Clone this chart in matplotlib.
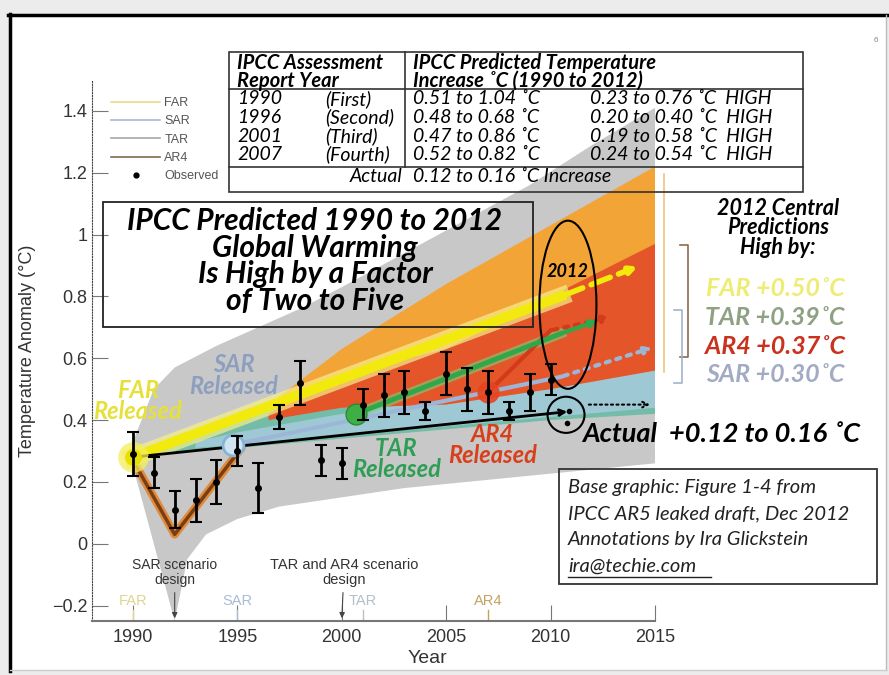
import matplotlib
matplotlib.use('Agg')
import matplotlib.pyplot as plt
from matplotlib.patches import Ellipse, Rectangle
from matplotlib.lines import Line2D
from matplotlib.ticker import FuncFormatter

plt.rcParams['font.family'] = ['Liberation Sans', 'DejaVu Sans']
CAL = ['Lato', 'DejaVu Sans']

W, H = 889, 675


def fx(x):
    return x / W


def fy(y):
    return 1 - y / H


# observed global temperature anomaly (with error bars)
obs_years = [1990, 1991, 1992, 1993, 1994, 1995, 1996, 1997, 1998, 1999, 2000,
             2001, 2002, 2003, 2004, 2005, 2006, 2007, 2008, 2009, 2010]
obs_mean = [0.29, 0.23, 0.11, 0.14, 0.20, 0.30, 0.18, 0.41, 0.52, 0.27, 0.26,
            0.45, 0.48, 0.49, 0.43, 0.55, 0.50, 0.49, 0.43, 0.49, 0.53]
obs_err = [0.07, 0.05, 0.06, 0.07, 0.07, 0.05, 0.08, 0.04, 0.07, 0.05, 0.05,
           0.05, 0.07, 0.07, 0.03, 0.07, 0.07, 0.07, 0.03, 0.06, 0.05]
actual_x = [2010.9, 2010.8]
actual_y = [0.43, 0.39]

# grey envelope
gray_hi_x = [1990, 1991, 1992, 1994, 1996, 1998, 2000, 2003, 2006, 2009, 2012, 2015]
gray_hi = [0.33, 0.50, 0.57, 0.64, 0.70, 0.76, 0.83, 0.94, 1.05, 1.16, 1.29, 1.41]
gray_lo_x = [1990, 1991, 1992, 1992.6, 1993.5, 1995, 1997, 2000, 2003, 2006, 2009, 2012, 2015]
gray_lo = [0.25, 0.0, -0.25, -0.05, 0.03, 0.08, 0.12, 0.15, 0.18, 0.20, 0.22, 0.24, 0.26]

# projection ranges
far_x = [1996.5, 2000, 2005, 2010, 2015]
far_hi = [0.45, 0.63, 0.84, 1.03, 1.22]
far_lo = [0.43, 0.47, 0.52, 0.56, 0.60]
tar_x = [1991, 1995, 2000, 2005, 2010, 2015]
tar_hi = [0.30, 0.42, 0.50, 0.54, 0.56, 0.58]
tar_lo = [0.29, 0.31, 0.34, 0.37, 0.40, 0.42]
sar_x = [1993, 1995, 2000, 2005, 2010, 2015]
sar_hi = [0.33, 0.36, 0.42, 0.47, 0.52, 0.56]
sar_lo = [0.31, 0.32, 0.35, 0.38, 0.41, 0.44]
ar4_x = [1996.5, 2000, 2005, 2010, 2015]
ar4_hi = [0.42, 0.55, 0.63, 0.80, 0.97]
ar4_lo = [0.40, 0.44, 0.45, 0.50, 0.56]

# central lines
far_line_x = [1990, 2010.5, 2014.3]
far_line_y = [0.28, 0.80, 0.90]
sar_line_x = [1994.8, 2010.5, 2015]
sar_line_y = [0.32, 0.54, 0.637]
tar_line_x = [2000.7, 2010.5, 2012.4]
tar_line_y = [0.42, 0.68, 0.725]
ar4_line_x = [2007.0, 2010.0, 2013.0]
ar4_line_y = [0.49, 0.69, 0.735]
act_line_x = [1990, 2010.8]
act_line_y = [0.28, 0.427]
hind_x = [1990, 1992, 1995.2]
hind_y = [0.27, 0.03, 0.31]

report_years_axis = [1990, 1995, 2001, 2007]
report_names_axis = ['FAR', 'SAR', 'TAR', 'AR4']
report_colors = ['#e0d48e', '#a9bdd6', '#b5bfc8', '#c4a25e']

# table contents
tbl_years = ['1990', '1996', '2001', '2007']
tbl_names = ['(First)', '(Second)', '(Third)', '(Fourth)']
tbl_pred = ['0.51 to 1.04 ˚C', '0.48 to 0.68 ˚C', '0.47 to 0.86 ˚C', '0.52 to 0.82 ˚C']
tbl_high = ['0.23 to 0.76 ˚C  HIGH', '0.20 to 0.40 ˚C  HIGH',
            '0.19 to 0.58 ˚C  HIGH', '0.24 to 0.54 ˚C  HIGH']

high_labels = ['FAR +0.50˚C', 'TAR +0.39˚C', 'AR4 +0.37˚C', 'SAR +0.30˚C']
high_colors = ['#eeec72', '#8ea283', '#c9321d', '#a3abc3']

fig = plt.figure(figsize=(8.89, 6.75), dpi=100)
fig.patch.set_facecolor('#ececec')
fig.add_artist(Rectangle((fx(10), fy(670)), fx(886) - fx(10), fy(15) - fy(670),
                         transform=fig.transFigure, facecolor='white',
                         edgecolor='none', zorder=-5))
fig.add_artist(Line2D([fx(8), fx(887)], [fy(15), fy(15)], color='black', lw=2.5))
fig.add_artist(Line2D([fx(10), fx(10)], [fy(14), fy(671)], color='black', lw=2.5))
fig.add_artist(Line2D([fx(886), fx(886)], [fy(15), fy(670)], color='#bbbbbb', lw=1))
fig.add_artist(Line2D([fx(10), fx(886)], [fy(670), fy(670)], color='#cccccc', lw=1))

ax = fig.add_axes([fx(92), fy(621), fx(655) - fx(92), fy(80) - fy(621)])
ax.patch.set_alpha(0)
ax.set_xlim(1988.04, 2015)
ax.set_ylim(-0.25, 1.5)

# bands
ax.fill(gray_hi_x + gray_lo_x[::-1], gray_hi + gray_lo[::-1], color='#c8c8c8', lw=0, zorder=1)
ax.fill(far_x + far_x[::-1], far_hi + far_lo[::-1], color='#f3a436', lw=0, zorder=2)
ax.fill(tar_x + tar_x[::-1], tar_hi + tar_lo[::-1], color='#74bca8', lw=0, zorder=2.2)
ax.fill(sar_x + sar_x[::-1], sar_hi + sar_lo[::-1], color='#a9cde0', lw=0, zorder=2.3, alpha=0.8)
ax.fill(ar4_x + ar4_x[::-1], ar4_hi + ar4_lo[::-1], color='#e5552a', lw=0, zorder=2.4)

# hindcast V
ax.plot(hind_x, hind_y, color='#e08a3c', lw=6, solid_capstyle='round', zorder=3)
ax.plot(hind_x, hind_y, color='#7a3e14', lw=2.5, zorder=3.1)

# central projection lines
ax.plot(far_line_x[:2], far_line_y[:2], color='#f6f08a', lw=13, alpha=0.7, zorder=4)
ax.plot(far_line_x[:2], far_line_y[:2], color='#f2ea0c', lw=7, zorder=4.1)
ax.annotate('', xy=(far_line_x[2], far_line_y[2]), xytext=(far_line_x[1], far_line_y[1]),
            arrowprops=dict(arrowstyle='->', color='#f2ea0c', lw=4, linestyle='--'), zorder=4.1)
ax.plot(sar_line_x[:2], sar_line_y[:2], color='#9db6d8', lw=3, zorder=4)
ax.annotate('', xy=(sar_line_x[2], sar_line_y[2]), xytext=(sar_line_x[1], sar_line_y[1]),
            arrowprops=dict(arrowstyle='->', color='#9db6d8', lw=3, linestyle=':'), zorder=4)
ax.plot(tar_line_x[:2], tar_line_y[:2], color='#7ccf7a', lw=7, alpha=0.6, zorder=4)
ax.plot(tar_line_x[:2], tar_line_y[:2], color='#2ea84a', lw=3.5, zorder=4.1)
ax.annotate('', xy=(tar_line_x[2], tar_line_y[2]), xytext=(tar_line_x[1], tar_line_y[1]),
            arrowprops=dict(arrowstyle='->', color='#2ea84a', lw=3), zorder=4.1)
ax.plot(ar4_line_x[:2], ar4_line_y[:2], color='#d23a1c', lw=3, zorder=4)
ax.annotate('', xy=(ar4_line_x[2], ar4_line_y[2]), xytext=(ar4_line_x[1], ar4_line_y[1]),
            arrowprops=dict(arrowstyle='->', color='#d23a1c', lw=3, linestyle=':'), zorder=4)
ax.annotate('', xy=(act_line_x[1], act_line_y[1]), xytext=(act_line_x[0], act_line_y[0]),
            arrowprops=dict(arrowstyle='->', color='black', lw=2, shrinkA=0, shrinkB=0), zorder=5)

# report release markers
ax.plot(far_line_x[0], far_line_y[0], 'o', ms=22, color='#f4ee5a', alpha=0.75, mec='none', zorder=6)
ax.plot(far_line_x[0], far_line_y[0], 'o', ms=12, color='#e8e000', mec='none', zorder=6)
ax.plot(sar_line_x[0], sar_line_y[0], 'o', ms=15, mfc='#cfe3f0', mec='#86b4d6', mew=2, zorder=6)
ax.plot(tar_line_x[0], tar_line_y[0], 'o', ms=15, color='#3daf45', mec='#2a8a36', zorder=6)
ax.plot(ar4_line_x[0], ar4_line_y[0], 'o', ms=16, color='#e8431f', alpha=0.9, mec='none', zorder=6)

# observations
ax.errorbar(obs_years, obs_mean, yerr=obs_err, fmt='o', color='black', ms=4,
            elinewidth=2, capsize=4, capthick=1.5, zorder=7)
ax.plot(actual_x, actual_y, 'o', color='black', ms=3, zorder=7)

# 2012 ellipse & actual circle
ax.add_patch(Ellipse((2010.83, 0.773), 2.73, 0.544, fill=False, ec='black', lw=1.5, zorder=8))
ax.text(2010.83, 0.88, '2012', ha='center', va='center', fontsize=13,
        fontweight='bold', style='italic', family=CAL, zorder=9)
ax.add_patch(Ellipse((2010.74, 0.417), 1.77, 0.117, fill=False, ec='black', lw=1.5, zorder=8))
ax.annotate('', xy=(2014.9, 0.45), xytext=(2011.7, 0.45),
            arrowprops=dict(arrowstyle='->', color='black', lw=1.5, linestyle=':'), zorder=8)

# release labels
rel = dict(ha='center', va='center', fontsize=17, fontweight='bold', style='italic',
           family=CAL, linespacing=0.9, zorder=9)
ax.text(1990.24, 0.463, 'FAR\nReleased', color='#e6e03a', **rel)
ax.text(1994.84, 0.544, 'SAR\nReleased', color='#8d9fbf', **rel)
ax.text(2002.6, 0.275, 'TAR\nReleased', color='#2f9e55', **rel)
ax.text(2007.24, 0.32, 'AR4\nReleased', color='#d8401c', **rel)

# scenario design arrows
ax.annotate('SAR scenario\ndesign', xy=(1992, -0.25), xytext=(1992, -0.094),
            ha='center', va='center', fontsize=10, color='#333333', linespacing=1.05,
            arrowprops=dict(arrowstyle='-|>', color='#444444', lw=0.8, mutation_scale=8))
ax.annotate('TAR and AR4 scenario\ndesign', xy=(2000, -0.25), xytext=(2000.1, -0.094),
            ha='center', va='center', fontsize=10.5, color='#333333', linespacing=1.05,
            arrowprops=dict(arrowstyle='-|>', color='#444444', lw=0.8, mutation_scale=8))
for yr, nm, c in zip(report_years_axis, report_names_axis, report_colors):
    ax.text(yr, -0.185, nm, ha='center', va='center', fontsize=10.5, color=c)
    ax.plot([yr, yr], [-0.215, -0.25], color=c, lw=1)

# right side brackets
ax.plot([2015.43, 2015.43], [1.197, 0.555], color='#f0c27a', lw=1.2, clip_on=False)
ax.plot([2016.2, 2016.58, 2016.58, 2016.2], [0.965, 0.965, 0.603, 0.603], color='#8a6a50', lw=1.2, clip_on=False)
ax.plot([2015.9, 2016.29, 2016.29, 2015.9], [0.755, 0.755, 0.52, 0.52], color='#a3b3c9', lw=1.2, clip_on=False)

# axes styling
for s in ['top', 'right']:
    ax.spines[s].set_visible(False)
ax.spines['left'].set_linestyle((0, (1, 1.5)))
ax.spines['left'].set_color('#444444')
ax.spines['bottom'].set_color('#777777')
ax.spines['bottom'].set_linewidth(1.5)
ax.set_xticks([1990, 1995, 2000, 2005, 2010, 2015])
ax.set_yticks([-0.2, 0, 0.2, 0.4, 0.6, 0.8, 1, 1.2, 1.4])
ax.yaxis.set_major_formatter(FuncFormatter(lambda v, p: ('%g' % round(v, 2)).replace('-', '\u2212')))
ax.tick_params(direction='in', length=11.5, width=0.8, color='#777777',
               labelsize=13, labelcolor='#333333')
ax.tick_params(axis='x', pad=6)
ax.set_xlabel('Year', fontsize=14, color='#333333', labelpad=0)
ax.set_ylabel('Temperature Anomaly (°C)', fontsize=13, color='#333333')
ax.yaxis.set_label_coords(-0.1, 0.5)
ax.xaxis.set_label_coords(0.595, -0.053)

# legend
handles = [Line2D([], [], color='#e8dc8c', lw=1.2),
           Line2D([], [], color='#a8b8d2', lw=1.2),
           Line2D([], [], color='#a2aaa2', lw=1.2),
           Line2D([], [], color='#86684c', lw=1.2),
           Line2D([], [], ls='none', marker='o', color='black', ms=3.5)]
ax.legend(handles, ['FAR', 'SAR', 'TAR', 'AR4', 'Observed'], loc='upper left',
          bbox_to_anchor=(fx(105), fy(91)), bbox_transform=fig.transFigure,
          frameon=False, fontsize=9, handlelength=3.9, labelspacing=0.5,
          handletextpad=0.35, labelcolor='#555555', borderpad=0)

# table
tline = dict(color='#333333', lw=1.2)
fig.add_artist(Rectangle((fx(229), fy(192)), fx(803) - fx(229), fy(52) - fy(192),
                         transform=fig.transFigure, fill=False, ec='#333333', lw=1.2))
fig.add_artist(Line2D([fx(405), fx(405)], [fy(52), fy(167)], **tline))
fig.add_artist(Line2D([fx(229), fx(803)], [fy(89), fy(89)], **tline))
fig.add_artist(Line2D([fx(229), fx(803)], [fy(167), fy(167)], **tline))
hd = dict(fontsize=14.5, fontweight='bold', style='italic', family=CAL, va='center', linespacing=0.88)
fig.text(fx(237), fy(72), 'IPCC Assessment\nReport Year', ha='left', **hd)
fig.text(fx(413), fy(72), 'IPCC Predicted Temperature\nIncrease ˚C (1990 to 2012)', ha='left', **hd)
rw = dict(fontsize=14, style='italic', family=CAL, va='center')
for i in range(4):
    yy = fy(99 + 18.5 * i)
    fig.text(fx(237), yy, tbl_years[i], ha='left', **rw)
    fig.text(fx(325), yy, tbl_names[i], ha='left', **rw)
    fig.text(fx(413), yy, tbl_pred[i], ha='left', **rw)
    fig.text(fx(590), yy, tbl_high[i], ha='left', **rw)
fig.text(fx(402), fy(177), 'Actual', ha='right', **rw)
fig.text(fx(413), fy(177), '0.12 to 0.16 ˚C Increase', ha='left', **rw)

# title box
fig.add_artist(Rectangle((fx(103), fy(327)), fx(533) - fx(103), fy(202) - fy(327),
                         transform=fig.transFigure, fill=False, ec='#222222', lw=1.3))
fig.text(fx(315), fy(261), 'IPCC Predicted 1990 to 2012\nGlobal Warming\nIs High by a Factor\nof Two to Five',
         ha='center', va='center', fontsize=21.5, fontweight='bold', style='italic',
         family=CAL, linespacing=0.93)

# right-hand annotations
fig.text(fx(778), fy(228), '2012 Central\nPredictions\nHigh by:', ha='center', va='center',
         fontsize=15.5, fontweight='bold', style='italic', family=CAL, linespacing=0.9)
for i, (lab, c) in enumerate(zip(high_labels, high_colors)):
    fig.text(fx(775), fy(289 + 28.5 * i), lab, ha='center', va='center', fontsize=18,
             fontweight='bold', style='italic', family=CAL, color=c)
fig.text(fx(582), fy(434), 'Actual  +0.12 to 0.16 ˚C', ha='left', va='center', fontsize=19.5,
         fontweight='bold', style='italic', family=CAL)

# credits box
fig.add_artist(Rectangle((fx(559), fy(584)), fx(877) - fx(559), fy(469) - fy(584),
                         transform=fig.transFigure, fill=False, ec='#333333', lw=1.3))
credits = ['Base graphic: Figure 1-4 from', 'IPCC AR5 leaked draft, Dec 2012',
           'Annotations by Ira Glickstein', 'ira@techie.com']
for i, line in enumerate(credits):
    fig.text(fx(568), fy(487 + 26.5 * i), line, ha='left', va='center', fontsize=14.5,
             style='italic', family=CAL, color='#222222')
fig.add_artist(Line2D([fx(568), fx(711)], [fy(577), fy(577)], color='#222222', lw=1))
fig.text(fx(876), fy(40), '6', ha='center', va='center', fontsize=6, color='#888888')

fig.savefig('out.png', dpi=100)
